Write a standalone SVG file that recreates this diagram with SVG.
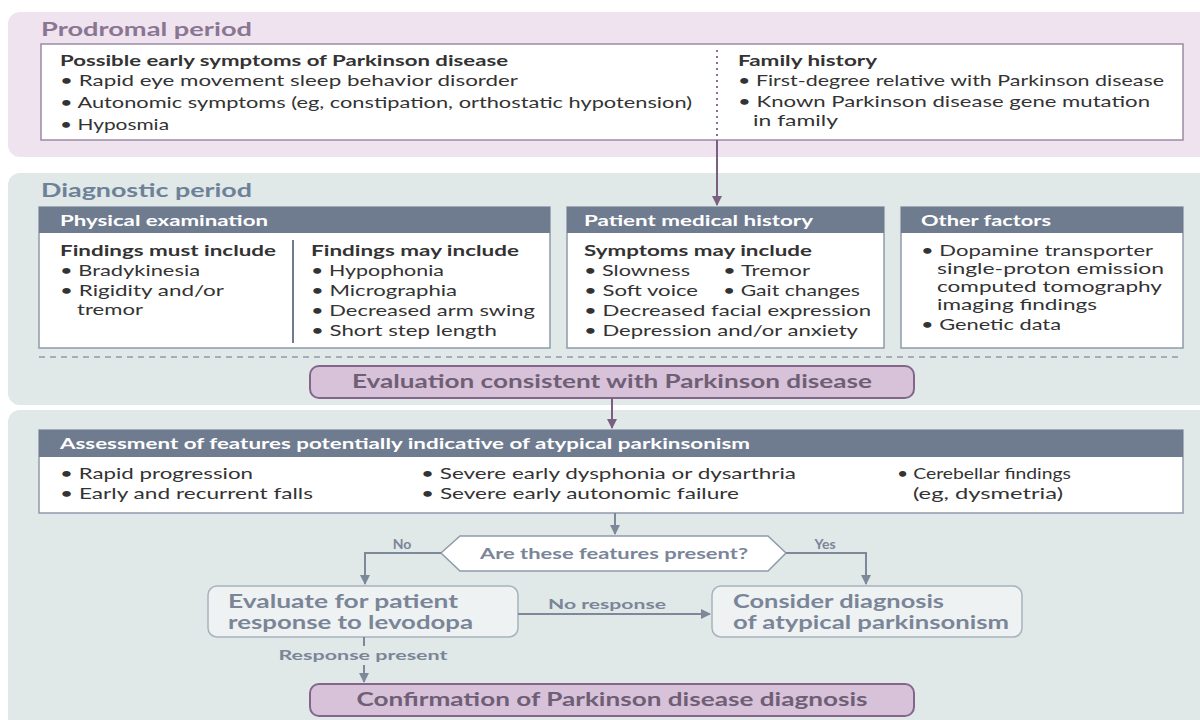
<svg xmlns="http://www.w3.org/2000/svg" width="1200" height="720" viewBox="0 0 1200 720">
<defs>
<style>
.t{font-family:Lato,"Open Sans","Liberation Sans",sans-serif;font-size:16px;fill:#333}
.s{font-size:15px}
.b{font-weight:bold}
.hd{font-family:Lato,"Open Sans","Liberation Sans",sans-serif;font-size:16px;font-weight:bold;fill:#fff}
.fl{font-family:Lato,"Open Sans","Liberation Sans",sans-serif;font-size:18px;font-weight:bold;fill:#7b8598}
.dq{font-size:16px}
.lb{font-family:Lato,"Open Sans","Liberation Sans",sans-serif;font-size:14px;font-weight:bold;fill:#7b8598}
.pt{font-family:Lato,"Open Sans","Liberation Sans",sans-serif;font-size:18px;font-weight:bold;fill:#6f5f75}
.ttl{font-family:Lato,"Open Sans","Liberation Sans",sans-serif;font-size:19px;font-weight:bold}
.box{fill:#fff;stroke:#8e9aab;stroke-width:1.5}
.hdr{fill:#6f7c90}
.pill{fill:#d8c2da;stroke:#85668b;stroke-width:2}
.fbox{fill:#eef2f2;stroke:#a8b2bf;stroke-width:1.5}
.cs{fill:none;stroke:#7d889a;stroke-width:2}
.cp{fill:none;stroke:#7b5f81;stroke-width:2}
</style>
<marker id="as" viewBox="0 0 10 10" refX="9" refY="5" markerWidth="5" markerHeight="5" orient="auto"><path d="M0,0L10,5L0,10z" fill="#7d889a"/></marker>
<marker id="ap" viewBox="0 0 10 10" refX="9" refY="5" markerWidth="5" markerHeight="5" orient="auto"><path d="M0,0L10,5L0,10z" fill="#7b5f81"/></marker>
</defs>
<rect width="1200" height="720" fill="#fff"/>
<!-- bands -->
<rect x="8" y="12" width="1210" height="145" rx="12" fill="#efe3f0"/>
<rect x="8" y="173" width="1210" height="232" rx="12" fill="#e0e8e8"/>
<rect x="8" y="410" width="1210" height="330" rx="12" fill="#e0e8e8"/>
<text class="ttl" x="41" y="36" fill="#8b7691" textLength="211" lengthAdjust="spacingAndGlyphs">Prodromal period</text>
<text class="ttl" x="41" y="197" fill="#6e8199" textLength="211" lengthAdjust="spacingAndGlyphs">Diagnostic period</text>

<g id="prodromal">
<rect x="41" y="44" width="1142" height="96" fill="#fff" stroke="#9c8aa3" stroke-width="1.5"/>
<line x1="717" y1="50" x2="717" y2="136" stroke="#8a6f90" stroke-width="2" stroke-dasharray="2,4"/>
<text class="t b" x="60" y="66" textLength="448" lengthAdjust="spacingAndGlyphs">Possible early symptoms of Parkinson disease</text>
<text class="t" x="60" y="86" textLength="458" lengthAdjust="spacingAndGlyphs">• Rapid eye movement sleep behavior disorder</text>
<text class="t" x="60" y="108" textLength="632" lengthAdjust="spacingAndGlyphs">• Autonomic symptoms (eg, constipation, orthostatic hypotension)</text>
<text class="t" x="60" y="130" textLength="109" lengthAdjust="spacingAndGlyphs">• Hyposmia</text>
<text class="t b" x="738" y="66" textLength="139" lengthAdjust="spacingAndGlyphs">Family history</text>
<text class="t" x="738" y="86" textLength="426" lengthAdjust="spacingAndGlyphs">• First-degree relative with Parkinson disease</text>
<text class="t" x="738" y="107" textLength="412" lengthAdjust="spacingAndGlyphs">• Known Parkinson disease gene mutation</text>
<text class="t" x="753" y="126" textLength="85" lengthAdjust="spacingAndGlyphs">in family</text>
</g>

<g id="physical">
<rect class="box" x="39" y="207" width="511" height="141"/>
<rect class="hdr" x="39" y="207" width="511" height="26"/>
<text class="hd" x="60" y="226" textLength="208" lengthAdjust="spacingAndGlyphs">Physical examination</text>
<line x1="293" y1="240" x2="293" y2="343" stroke="#6f7c90" stroke-width="2"/>
<text class="t b" x="60" y="256" textLength="216" lengthAdjust="spacingAndGlyphs">Findings must include</text>
<text class="t" x="60" y="276" textLength="140" lengthAdjust="spacingAndGlyphs">• Bradykinesia</text>
<text class="t" x="60" y="296" textLength="164" lengthAdjust="spacingAndGlyphs">• Rigidity and/or</text>
<text class="t" x="77" y="315" textLength="66" lengthAdjust="spacingAndGlyphs">tremor</text>
<text class="t b" x="311" y="256" textLength="208" lengthAdjust="spacingAndGlyphs">Findings may include</text>
<text class="t" x="311" y="276" textLength="133" lengthAdjust="spacingAndGlyphs">• Hypophonia</text>
<text class="t" x="311" y="296" textLength="146" lengthAdjust="spacingAndGlyphs">• Micrographia</text>
<text class="t" x="311" y="316" textLength="224" lengthAdjust="spacingAndGlyphs">• Decreased arm swing</text>
<text class="t" x="311" y="336" textLength="186" lengthAdjust="spacingAndGlyphs">• Short step length</text>
</g>

<g id="history">
<rect class="box" x="567" y="207" width="317" height="141"/>
<rect class="hdr" x="567" y="207" width="317" height="26"/>
<text class="hd" x="584" y="226" textLength="229" lengthAdjust="spacingAndGlyphs">Patient medical history</text>
<text class="t b" x="584" y="256" textLength="228" lengthAdjust="spacingAndGlyphs">Symptoms may include</text>
<text class="t" x="584" y="276" textLength="106" lengthAdjust="spacingAndGlyphs">• Slowness</text>
<text class="t" x="723" y="276" textLength="87" lengthAdjust="spacingAndGlyphs">• Tremor</text>
<text class="t" x="584" y="296" textLength="114" lengthAdjust="spacingAndGlyphs">• Soft voice</text>
<text class="t" x="723" y="296" textLength="137" lengthAdjust="spacingAndGlyphs">• Gait changes</text>
<text class="t" x="584" y="316" textLength="287" lengthAdjust="spacingAndGlyphs">• Decreased facial expression</text>
<text class="t" x="584" y="336" textLength="274" lengthAdjust="spacingAndGlyphs">• Depression and/or anxiety</text>
</g>

<g id="other">
<rect class="box" x="901" y="207" width="282" height="141"/>
<rect class="hdr" x="901" y="207" width="282" height="26"/>
<text class="hd" x="921" y="226" textLength="130" lengthAdjust="spacingAndGlyphs">Other factors</text>
<text class="t s" x="921" y="256" textLength="232" lengthAdjust="spacingAndGlyphs">• Dopamine transporter</text>
<text class="t s" x="937" y="274" textLength="227" lengthAdjust="spacingAndGlyphs">single-proton emission</text>
<text class="t s" x="937" y="292" textLength="225" lengthAdjust="spacingAndGlyphs">computed tomography</text>
<text class="t s" x="937" y="310" textLength="160" lengthAdjust="spacingAndGlyphs">imaging findings</text>
<text class="t s" x="921" y="330" textLength="140" lengthAdjust="spacingAndGlyphs">• Genetic data</text>
</g>

<line x1="39" y1="357" x2="1183" y2="357" stroke="#8e9aab" stroke-width="1.5" stroke-dasharray="6,5"/>

<g id="evaluation">
<rect class="pill" x="310" y="366" width="604" height="32" rx="9"/>
<text class="pt" x="612" y="388" text-anchor="middle" textLength="520" lengthAdjust="spacingAndGlyphs">Evaluation consistent with Parkinson disease</text>
</g>

<g id="assessment">
<rect class="box" x="39" y="430" width="1144" height="83"/>
<rect class="hdr" x="39" y="430" width="1144" height="27"/>
<text class="hd" x="60" y="449" textLength="690" lengthAdjust="spacingAndGlyphs">Assessment of features potentially indicative of atypical parkinsonism</text>
<text class="t" x="60" y="479" textLength="193" lengthAdjust="spacingAndGlyphs">• Rapid progression</text>
<text class="t" x="60" y="499" textLength="253" lengthAdjust="spacingAndGlyphs">• Early and recurrent falls</text>
<text class="t" x="421" y="479" textLength="375" lengthAdjust="spacingAndGlyphs">• Severe early dysphonia or dysarthria</text>
<text class="t" x="421" y="499" textLength="318" lengthAdjust="spacingAndGlyphs">• Severe early autonomic failure</text>
<text class="t" x="897" y="479" textLength="174" lengthAdjust="spacingAndGlyphs">• Cerebellar findings</text>
<text class="t" x="913" y="499" textLength="150" lengthAdjust="spacingAndGlyphs">(eg, dysmetria)</text>
</g>

<g id="decision">
<polygon points="441,553 460,536 768,536 786,553 768,571 460,571" fill="#fff" stroke="#8e9aab" stroke-width="1.5"/>
<text class="fl dq" x="614" y="559" text-anchor="middle" textLength="268" lengthAdjust="spacingAndGlyphs">Are these features present?</text>
</g>

<g id="evaluate">
<rect class="fbox" x="208" y="586" width="310" height="51" rx="9"/>
<text class="fl" x="228" y="608" textLength="230" lengthAdjust="spacingAndGlyphs">Evaluate for patient</text>
<text class="fl" x="228" y="629" textLength="245" lengthAdjust="spacingAndGlyphs">response to levodopa</text>
</g>

<g id="consider">
<rect class="fbox" x="712" y="586" width="310" height="51" rx="9"/>
<text class="fl" x="733" y="608" textLength="211" lengthAdjust="spacingAndGlyphs">Consider diagnosis</text>
<text class="fl" x="733" y="629" textLength="276" lengthAdjust="spacingAndGlyphs">of atypical parkinsonism</text>
</g>

<g id="confirmation">
<rect class="pill" x="310" y="684" width="604" height="32" rx="9"/>
<text class="pt" x="612" y="706" text-anchor="middle" textLength="511" lengthAdjust="spacingAndGlyphs">Confirmation of Parkinson disease diagnosis</text>
</g>

<g id="connectors">
<path class="cp" d="M717,140 V205" marker-end="url(#ap)"/>
<path class="cp" d="M612,398 V428" marker-end="url(#ap)"/>
<path class="cs" d="M615,513 V534" marker-end="url(#as)"/>
<path class="cs" d="M441,553 H365 V584" marker-end="url(#as)"/>
<path class="cs" d="M786,553 H866 V584" marker-end="url(#as)"/>
<path class="cs" d="M518,614 H710" marker-end="url(#as)"/>
<path class="cs" d="M364,637 V646"/>
<path class="cs" d="M364,665 V682" marker-end="url(#as)"/>
<text class="lb" x="402" y="549" text-anchor="middle">No</text>
<text class="lb" x="825" y="549" text-anchor="middle">Yes</text>
<text class="lb" x="607" y="609" text-anchor="middle" textLength="118" lengthAdjust="spacingAndGlyphs">No response</text>
<text class="lb" x="363" y="660" text-anchor="middle" textLength="169" lengthAdjust="spacingAndGlyphs">Response present</text>
</g>
</svg>
